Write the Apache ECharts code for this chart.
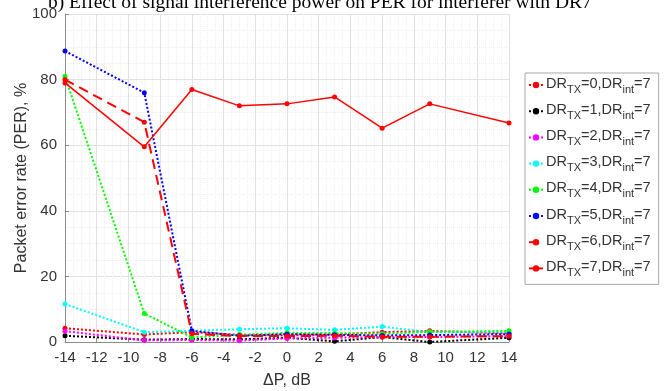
<!DOCTYPE html>
<html>
<head>
<meta charset="utf-8">
<script src="https://cdn.jsdelivr.net/npm/echarts@6/dist/echarts.min.js"></script>
<style>html,body{margin:0;padding:0;background:#fff}#c{width:672px;height:391px}</style>
</head>
<body>
<div id="c"></div>
<script>
var xValues = [-14, -9, -6, -3, 0, 3, 6, 9, 14];
var dr0 = [4.2, 2.3, 3.0, 2.2, 2.0, 2.3, 3.0, 3.4, 2.6];
var dr1 = [1.9, 0.7, 0.9, 0.8, 1.3, 0.2, 1.5, 0.0, 1.3];
var dr2 = [3.3, 0.5, 0.6, 0.4, 1.1, 1.3, 1.5, 1.5, 1.8];
var dr3 = [11.6, 3.0, 3.4, 3.9, 4.2, 3.7, 4.7, 3.0, 3.0];
var dr4 = [81, 8.7, 1.4, 2.2, 2.8, 2.7, 2.5, 3.1, 3.4];
var dr5 = [88.7, 76, 3.4, 1.9, 2.4, 2.2, 2.0, 2.1, 2.4];
var dr6 = [80, 67, 2.5, 1.8, 1.8, 1.9, 1.6, 1.6, 1.8];
var dr7 = [79, 59.5, 77, 72, 72.6, 74.7, 65.2, 72.6, 66.8];
var seriesNames = ['DR0', 'DR1', 'DR2', 'DR3', 'DR4', 'DR5', 'DR6', 'DR7'];
var txIndex = ['0', '1', '2', '3', '4', '5', '6', '7'];
var titleText = 'b) Effect of signal interference power on PER for interferer with DR7';
var xName = 'ΔP, dB';
var yName = 'Packet error rate (PER), %';

var allData = [dr0, dr1, dr2, dr3, dr4, dr5, dr6, dr7];
var colors = ['#ff0000', '#000000', '#ff00ff', '#00ffff', '#00ff00', '#0000ff', '#ff0000', '#ff0000'];
var types = ['dotted', 'dotted', 'dotted', 'dotted', 'dotted', 'dotted', [10, 6], 'solid'];
var widths = [2, 2, 2, 2, 2, 2, 2, 1.5];

function pairs(arr) {
  return xValues.map(function (x, i) { return [x, arr[i]]; });
}

var series = allData.map(function (d, i) {
  return {
    name: seriesNames[i],
    type: 'line',
    data: pairs(d),
    symbol: 'circle',
    symbolSize: 5,
    itemStyle: { color: colors[i] },
    lineStyle: { color: colors[i], width: widths[i], type: types[i] },
    z: 2 + i,
    animation: false
  };
});

var chart = echarts.init(document.getElementById('c'));
var labelColor = '#333333';
chart.setOption({
  animation: false,
  backgroundColor: '#ffffff',
  title: {
    text: titleText,
    left: 43,
    top: -12,
    textStyle: { fontFamily: 'Liberation Serif', fontWeight: 'normal', fontSize: 19.5, color: '#000' }
  },
  grid: { left: 65, right: 163, top: 14, bottom: 49, containLabel: false, outerBoundsMode: 'none' },
  legend: {
    orient: 'vertical',
    left: 525,
    top: 73,
    padding: [3, 8, 6, 3],
    itemGap: 7.2,
    itemWidth: 14,
    itemHeight: 8,
    backgroundColor: '#ffffff',
    borderColor: '#a8a8a8',
    borderWidth: 1,
    borderRadius: 0,
    data: seriesNames,
    formatter: function (name) {
      var k = seriesNames.indexOf(name);
      return '{a|DR}{s|TX}{a|=' + txIndex[k] + ',DR}{s|int}{a|=7}';
    },
    textStyle: {
      padding: [0, 0, 0, -2],
      rich: {
        a: { fontFamily: 'Liberation Sans', fontSize: 14.5, color: labelColor, lineHeight: 18, verticalAlign: 'top' },
        s: { fontFamily: 'Liberation Sans', fontSize: 11, color: labelColor, lineHeight: 14, padding: [8, 0, 0, 0], verticalAlign: 'top' }
      }
    }
  },
  xAxis: {
    type: 'value',
    min: -14,
    max: 14,
    interval: 2,
    name: xName,
    nameLocation: 'middle',
    nameGap: 31,
    nameMoveOverlap: false,
    nameTextStyle: { fontFamily: 'Liberation Sans', fontSize: 16, color: labelColor },
    axisLine: { show: true, onZero: false, lineStyle: { color: '#8c8c8c', width: 1 } },
    axisTick: { show: true, inside: true, length: 4, lineStyle: { color: '#8c8c8c' } },
    axisLabel: { fontFamily: 'Liberation Sans', fontSize: 15, color: labelColor, margin: 8 },
    splitLine: { show: true, lineStyle: { color: '#e2e2e2', width: 1 } },
    minorTick: { show: false, splitNumber: 4 },
    minorSplitLine: { show: true, lineStyle: { color: '#f0f0f0', width: 1, type: 'dotted' } }
  },
  yAxis: {
    type: 'value',
    min: 0,
    max: 100,
    interval: 20,
    name: yName,
    nameLocation: 'middle',
    nameRotate: 90,
    nameGap: 35,
    nameMoveOverlap: false,
    nameTextStyle: { fontFamily: 'Liberation Sans', fontSize: 16, color: labelColor },
    axisLine: { show: true, onZero: false, lineStyle: { color: '#8c8c8c', width: 1 } },
    axisTick: { show: true, inside: true, length: 4, lineStyle: { color: '#8c8c8c' } },
    axisLabel: { fontFamily: 'Liberation Sans', fontSize: 15, color: labelColor, margin: 8 },
    splitLine: { show: true, lineStyle: { color: '#e2e2e2', width: 1 } },
    minorTick: { show: false, splitNumber: 4 },
    minorSplitLine: { show: true, lineStyle: { color: '#f0f0f0', width: 1, type: 'dotted' } }
  },
  series: series
});
</script>
</body>
</html>
